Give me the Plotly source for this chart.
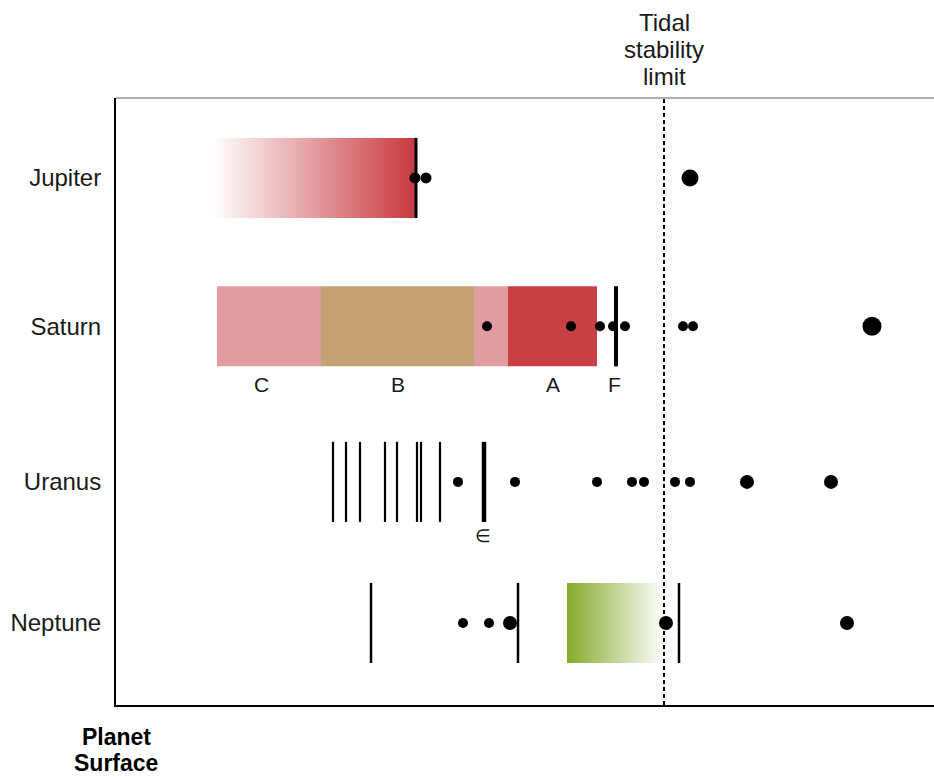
import plotly.graph_objects as go

# ---------------- data ----------------
planets = ["Jupiter", "Saturn", "Uranus", "Neptune"]
row_pos = [4.0, 3.0, 1.951, 1.0]          # vertical row positions
half_h = 0.27                              # half height of ring bands (row units)

# Jupiter (distance units from planet surface)
jup_ring = [97, 300]
jup_edge = [300]
jup_small = [299, 310]
jup_big = [574]

# Saturn rings
sat_ring_names = ["C", "B", "Cassini", "A"]
sat_ring_start = [101, 205, 358, 392]
sat_ring_end = [205, 358, 392, 481]
sat_ring_colors = ["#e09c9e", "#c4a274", "#e09c9e", "#c84043"]
sat_labels = ["C", "B", "A", "F"]
sat_label_x = [145, 282, 437, 498]
sat_f_ring = [500]
sat_small = [371, 455, 484, 497, 509, 567, 577]
sat_big = [756]

# Uranus
ura_thin = [217, 230, 244, 269, 281, 301, 305, 324]
ura_eps = [368]
ura_eps_label_x = 367
ura_small = [342, 399, 481, 516, 528, 559, 574]
ura_big = [631, 715]

# Neptune
nep_lines = [255, 402, 563]
nep_arc = [451, 546]
nep_small = [347, 373]
nep_med = [394, 550, 731]

tidal_limit = 548
tidal_text = ["Tidal", "stability", "limit"]
surface_text = ["Planet", "Surface"]
x_range = [0, 818]
y_range = [0.447, 4.539]

FONT = "Liberation Sans, Arial, sans-serif"

fig = go.Figure()


def vlines(xs, row, width, color="black"):
    xx, yy = [], []
    for x in xs:
        xx += [x, x, None]
        yy += [row - half_h, row + half_h, None]
    return go.Scatter(x=xx, y=yy, mode="lines", line=dict(color=color, width=width),
                      hoverinfo="skip", showlegend=False)


def dots(xs, row, size):
    return go.Scatter(x=xs, y=[row] * len(xs), mode="markers",
                      marker=dict(color="black", size=size, line=dict(width=0)),
                      hoverinfo="skip", showlegend=False)


def grad_box(x0, x1, row, cscale):
    return go.Scatter(x=[x0, x1, x1, x0, x0],
                      y=[row - half_h, row - half_h, row + half_h, row + half_h, row - half_h],
                      mode="lines", line=dict(width=0), fill="toself",
                      fillgradient=dict(type="horizontal", colorscale=cscale),
                      hoverinfo="skip", showlegend=False)


rJ, rS, rU, rN = row_pos

# Jupiter
fig.add_trace(grad_box(jup_ring[0], jup_ring[1], rJ,
                       [[0, "rgba(200,56,62,0)"], [1, "rgba(200,56,62,1)"]]))
fig.add_trace(vlines(jup_edge, rJ, 3))
fig.add_trace(dots(jup_small, rJ, 11))
fig.add_trace(dots(jup_big, rJ, 17))

# Saturn
fig.add_trace(go.Bar(y=[rS] * len(sat_ring_start),
                     x=[e - s for s, e in zip(sat_ring_start, sat_ring_end)],
                     base=sat_ring_start, orientation="h", width=2 * half_h,
                     marker=dict(color=sat_ring_colors, line=dict(width=0)),
                     hoverinfo="skip", showlegend=False))
fig.add_trace(vlines(sat_f_ring, rS, 4))
fig.add_trace(dots(sat_small, rS, 10))
fig.add_trace(dots(sat_big, rS, 19))

# Uranus
fig.add_trace(vlines(ura_thin, rU, 2.2))
fig.add_trace(vlines(ura_eps, rU, 4.5))
fig.add_trace(dots(ura_small, rU, 10))
fig.add_trace(dots(ura_big, rU, 14))

# Neptune
fig.add_trace(grad_box(nep_arc[0], nep_arc[1], rN,
                       [[0, "rgba(134,170,44,1)"], [1, "rgba(134,170,44,0.03)"]]))
fig.add_trace(vlines(nep_lines, rN, 2.5))
fig.add_trace(dots(nep_small, rN, 10))
fig.add_trace(dots(nep_med, rN, 14))

# tidal stability limit
fig.add_shape(type="line", xref="x", yref="paper", x0=tidal_limit, x1=tidal_limit,
              y0=0, y1=1, line=dict(color="black", width=2, dash="4px,3px"), layer="below")
# top border (gray)
fig.add_shape(type="line", xref="paper", yref="paper", x0=0, x1=1, y0=1, y1=1,
              line=dict(color="#b0b0b0", width=2))

annotations = []
for lab, lx in zip(sat_labels, sat_label_x):
    annotations.append(dict(x=lx, y=rS, yshift=-58, text=lab, showarrow=False,
                            font=dict(family=FONT, size=21, color="#1a1a1a")))
annotations.append(dict(x=ura_eps_label_x, y=rU, yshift=-54, text="∈", showarrow=False,
                        font=dict(family=FONT, size=18, color="#1a1a1a")))
for i, t in enumerate(tidal_text):
    annotations.append(dict(x=tidal_limit, y=1, yref="paper", yanchor="middle",
                            yshift=76 - 27 * i, text=t, showarrow=False,
                            font=dict(family=FONT, size=24, color="#1a1a1a")))
for i, t in enumerate(surface_text):
    annotations.append(dict(x=0, xref="paper", xanchor="center", y=0, yref="paper",
                            yanchor="middle", yshift=-32 - 26 * i, text="<b>%s</b>" % t,
                            showarrow=False,
                            font=dict(family=FONT, size=23, color="#000")))

fig.update_layout(
    width=934, height=777,
    margin=dict(l=116, r=0, t=98, b=72),
    paper_bgcolor="white", plot_bgcolor="white",
    barmode="overlay",
    showlegend=False,
    annotations=annotations,
    xaxis=dict(range=x_range, showgrid=False, zeroline=False, showticklabels=False,
               ticks="", showline=True, linecolor="black", linewidth=2),
    yaxis=dict(range=y_range, showgrid=False, zeroline=False,
               tickvals=row_pos, ticktext=planets, ticks="",
               ticklabelstandoff=8,
               tickfont=dict(family=FONT, size=24, color="#1a1a1a"),
               showline=True, linecolor="black", linewidth=2),
)

fig.write_html(
    "out.html",
    config={"displayModeBar": False},
    post_script="document.body.style.margin='0px';document.body.style.overflow='hidden';",
)
